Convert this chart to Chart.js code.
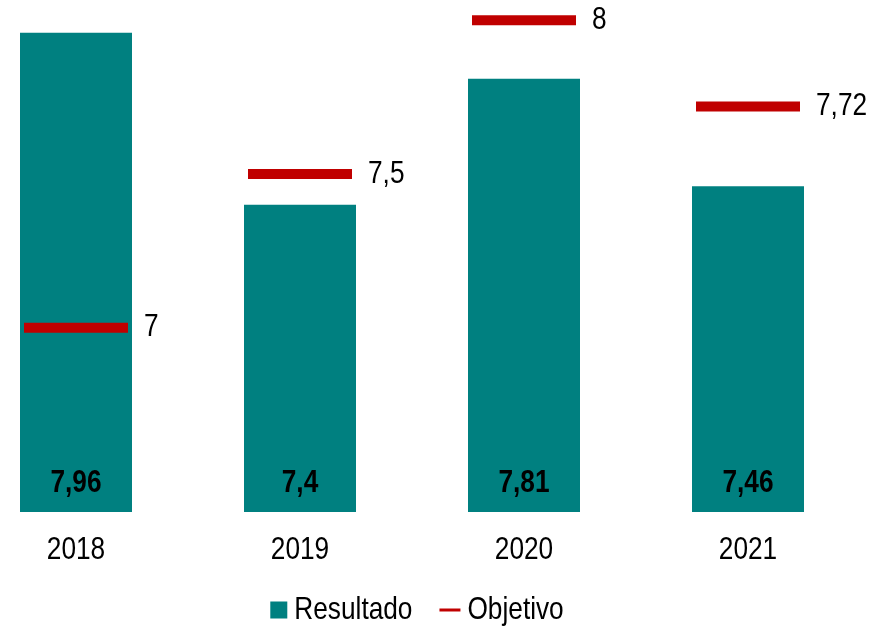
<!DOCTYPE html>
<html>
<head>
<meta charset="utf-8">
<script src="https://cdn.jsdelivr.net/npm/chart.js@4.4.0/dist/chart.umd.min.js"></script>
<style>
  html, body { margin: 0; padding: 0; background: #fff; overflow: hidden; }
  #wrap { position: absolute; left: -36px; top: 0; width: 922px; height: 628px; }
</style>
</head>
<body>
<div id="wrap"><canvas id="chart"></canvas></div>
<script>
const years = ['2018', '2019', '2020', '2021']
const resultado = [7.96, 7.4, 7.81, 7.46]
const objetivo = [7, 7.5, 8, 7.72]

const tealColor = '#008080'
const redColor = '#c00000'
const fontFamily = '"Liberation Sans", Arial, sans-serif'
const narrow = 0.82   // squeeze to look like Arial Narrow

function fmt(v) {
  return String(v).replace('.', ',')
}

function narrowText(ctx, text, x, y, font, align) {
  ctx.save()
  ctx.font = font
  ctx.textBaseline = 'middle'
  ctx.textAlign = align
  ctx.translate(x, y)
  ctx.scale(narrow, 1)
  ctx.fillText(text, 0, 0)
  ctx.restore()
}

function narrowWidth(ctx, text, font) {
  ctx.save()
  ctx.font = font
  var w = ctx.measureText(text).width * narrow
  ctx.restore()
  return w
}

// all texts are drawn here (value labels, category labels, legend)
const labelPlugin = {
  id: 'labels',
  afterDatasetsDraw(chart) {
    const ctx = chart.ctx
    const yScale = chart.scales.y
    const xScale = chart.scales.x
    const regular = '32px ' + fontFamily
    const bold = 'bold 32px ' + fontFamily
    ctx.save()
    ctx.fillStyle = '#000'

    var bars = chart.getDatasetMeta(0).data
    for (var i = 0; i < bars.length; i++) {
      narrowText(ctx, fmt(resultado[i]), bars[i].x, yScale.bottom - 29, bold, 'center')
    }

    var points = chart.getDatasetMeta(1).data
    for (var j = 0; j < points.length; j++) {
      narrowText(ctx, fmt(objetivo[j]), points[j].x + 68, points[j].y, regular, 'left')
    }

    // category labels
    for (var k = 0; k < years.length; k++) {
      narrowText(ctx, years[k], xScale.getPixelForValue(k), yScale.bottom + 38, regular, 'center')
    }

    // legend
    var ds = chart.data.datasets
    var legendY = yScale.bottom + 98
    var box = 17, lineLen = 21, gap = 7, itemGap = 27
    var total = 0
    var widths = []
    for (var d = 0; d < ds.length; d++) {
      widths[d] = narrowWidth(ctx, ds[d].label, regular)
      total += (d === 0 ? box : lineLen) + gap + widths[d]
    }
    total += itemGap * (ds.length - 1)
    var x = (xScale.left + xScale.right) / 2 + 5 - total / 2
    for (var d2 = 0; d2 < ds.length; d2++) {
      if (d2 === 0) {
        ctx.fillStyle = tealColor
        ctx.fillRect(x, legendY - box / 2, box, box)
        x += box + gap
      } else {
        ctx.strokeStyle = redColor
        ctx.lineWidth = 3
        ctx.beginPath()
        ctx.moveTo(x, legendY)
        ctx.lineTo(x + lineLen, legendY)
        ctx.stroke()
        x += lineLen + gap
      }
      ctx.fillStyle = '#000'
      narrowText(ctx, ds[d2].label, x, legendY, regular, 'left')
      x += widths[d2] + itemGap
    }
    ctx.restore()
  }
}

var ctx = document.getElementById('chart')
var chart = new Chart(ctx, {
  type: 'bar',
  data: {
    labels: years,
    datasets: [{
      type: 'bar',
      label: 'Resultado',
      data: resultado,
      backgroundColor: tealColor,
      borderWidth: 0,
      categoryPercentage: 1,
      barPercentage: 0.5,
      order: 2
    }, {
      type: 'line',
      label: 'Objetivo',
      data: objetivo,
      showLine: false,
      pointStyle: 'line',
      pointRadius: 52,
      pointHoverRadius: 52,
      borderWidth: 10,
      borderColor: redColor,
      backgroundColor: redColor,
      order: 1
    }]
  },
  options: {
    responsive: true,
    maintainAspectRatio: false,
    animation: false,
    layout: {
      autoPadding: false,
      padding: { left: 0, right: 26, top: 5, bottom: 116 }
    },
    scales: {
      x: {
        display: false,
        offset: true
      },
      y: {
        display: false,
        min: 6.4,
        max: 8.05
      }
    },
    plugins: {
      tooltip: { enabled: false },
      legend: { display: false }
    }
  },
  plugins: [labelPlugin]
})
</script>
</body>
</html>
